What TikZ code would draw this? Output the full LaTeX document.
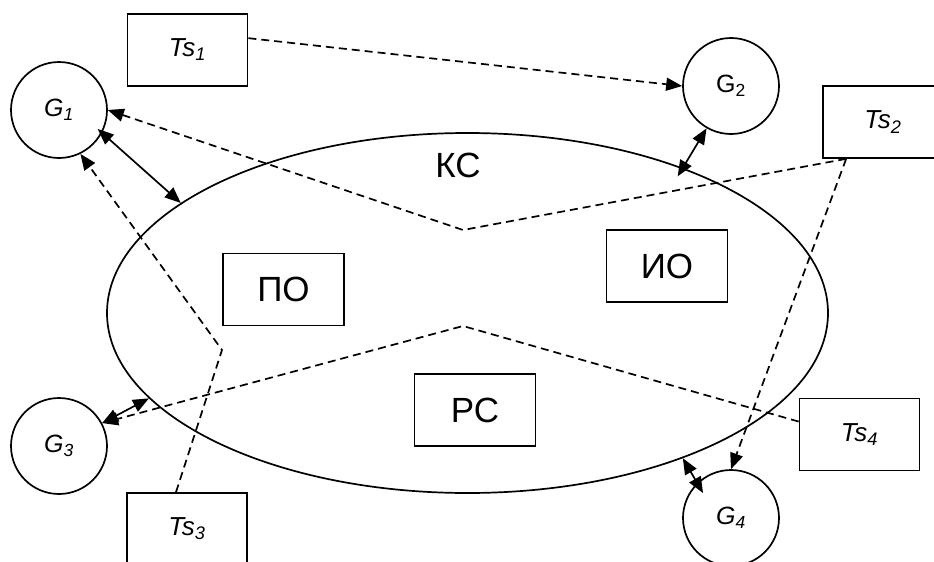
\documentclass[tikz,border=0pt]{standalone}
\usepackage{fontspec}
\setmainfont{Liberation Sans}
\usetikzlibrary{shapes.geometric,arrows.meta,calc}
\begin{document}
\begin{tikzpicture}[x=1pt,y=-1pt,
  lw/.style={line width=1.7pt},
  gcirc/.style={circle,draw,lw,minimum size=96pt,inner sep=0pt,font=\fontsize{25}{28}\selectfont\itshape},
  tbox/.style={rectangle,draw,lw,minimum width=120pt,minimum height=72pt,inner sep=0pt,font=\fontsize{26}{30}\selectfont\itshape},
  pbox/.style={rectangle,draw,lw,minimum width=121pt,minimum height=72pt,inner sep=0pt,font=\fontsize{35}{40}\selectfont},
  dline/.style={lw,dash pattern=on 8pt off 5pt},
  tip/.style={-{Triangle[length=16pt,width=13pt]}},
  dtip/.style={{Triangle[length=16pt,width=13pt]}-{Triangle[length=16pt,width=13pt]}},
]
\useasboundingbox (0,0) rectangle (934,562);
\clip (0,0) rectangle (934,562);

% main ellipse
\node[ellipse,draw,lw,minimum width=721pt,minimum height=360pt,inner sep=0pt] (E) at (467.5,313) {};
\node[font=\fontsize{35}{40}\selectfont] (KS) at (458,165) {КС};

% inner boxes
\node[pbox] (PO) at (283.5,289.5) {ПО};
\node[pbox] (IO) at (667,266) {ИО};
\node[pbox] (RS) at (475,410) {РС};

% circles
\node[gcirc] (G1) at (59,110) {G\textsubscript{1}};
\node[gcirc,font=\fontsize{25}{28}\selectfont] (G2) at (731,86) {G\textsubscript{2}};
\node[gcirc] (G3) at (59,446) {G\textsubscript{3}};
\node[gcirc] (G4) at (731,518) {G\textsubscript{4}};

% Ts boxes
\node[tbox] (Ts1) at (187.5,50) {Ts\textsubscript{1}};
\node[tbox] (Ts2) at (883,122) {Ts\textsubscript{2}};
\node[tbox] (Ts3) at (187,529) {Ts\textsubscript{3}};
\node[tbox] (Ts4) at (859.5,434.5) {Ts\textsubscript{4}};

% helper coordinates
\coordinate (v1) at (463,230);
\coordinate (v2) at (222,350);
\coordinate (v3) at (463,326);
\coordinate (t2) at ($(Ts2.south west)+(24,0)$);
\coordinate (t3) at ($(Ts3.north)+(-11,0)$);
\coordinate (g4in) at ($(G4)+(-28,-25)$);

% dashed connectors
\draw[dline,tip] (Ts1.11) -- (G2.west);
\draw[dline,tip] (t2) -- (v1) -- (G1.east);
\draw[dline,tip] (t2) -- (G4.north);
\draw[dline,tip] (t3) -- (v2) -- (G1.296);
\draw[dline,tip] (Ts4.168) -- (v3) -- (G3.28);

% solid double arrows
\draw[lw,dtip,shorten <=-6pt] (G1.332) -- (E.159);
\draw[lw,dtip,shorten >=-10pt] (G2.240) -- (E.34);
\draw[lw,dtip] (G3.28) -- (E.195);
\draw[lw,dtip] (E.326) -- (g4in);
\end{tikzpicture}
\end{document}
